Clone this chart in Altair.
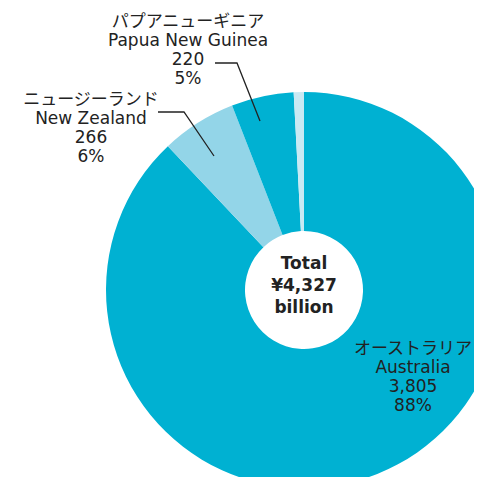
import altair as alt
import pandas as pd

# ---- data ----
regions_ja = ["オーストラリア", "ニュージーランド", "パプアニューギニア", "その他"]
regions_en = ["Australia", "New Zealand", "Papua New Guinea", "Other"]
values = [3805, 266, 220, 36]
colors = ["#00B1D2", "#93D5E8", "#00B1D2", "#C9E9F3"]

total = sum(values)
pcts = [f"{round(v / total * 100)}%" for v in values]

df = pd.DataFrame({
    "key": regions_en,
    "value": values,
    "order": list(range(len(values))),
})

# ---- layout (pixel positions of annotations, not data) ----
CX, CY = 296, 282
R_OUT, R_IN = 198, 59
FONT = "DejaVu Sans, Noto Sans CJK JP, sans-serif"

label_idx = [0, 1, 2]
label_x = [405, 83, 180]
label_y = [341, 92, 14]

leader_id = ["nz", "nz", "nz", "png", "png", "png"]
leader_step = [0, 1, 2, 0, 1, 2]
leader_x = [150, 176, 206, 207, 229, 252]
leader_y = [104, 104, 148, 55, 55, 113]

labels = pd.DataFrame({
    "text": [f"{regions_ja[i]}\n{regions_en[i]}\n{values[i]:,}\n{pcts[i]}" for i in label_idx],
    "px": label_x,
    "py": label_y,
})
leaders = pd.DataFrame({"id": leader_id, "step": leader_step, "px": leader_x, "py": leader_y})
center = pd.DataFrame({"text": [f"Total\n¥{total:,}\nbillion"]})

arcs = alt.Chart(df).mark_arc(innerRadius=R_IN, outerRadius=R_OUT).encode(
    theta=alt.Theta("value:Q", stack=True),
    color=alt.Color("key:N", scale=alt.Scale(domain=regions_en, range=colors), legend=None),
    order=alt.Order("order:Q"),
    x=alt.value(CX),
    y=alt.value(CY),
)

text_labels = alt.Chart(labels).mark_text(
    font=FONT, fontSize=17, lineBreak="\n", lineHeight=19, align="center",
    baseline="middle", color="#222222",
).encode(
    x=alt.X("px:Q", scale=None),
    y=alt.Y("py:Q", scale=None),
    text="text:N",
)

leader_lines = alt.Chart(leaders).mark_line(color="#222222", strokeWidth=1.3).encode(
    x=alt.X("px:Q", scale=None),
    y=alt.Y("py:Q", scale=None),
    detail="id:N",
    order="step:Q",
)

center_text = alt.Chart(center).mark_text(
    font=FONT, fontSize=17, fontWeight="bold", lineBreak="\n", lineHeight=22,
    align="center", baseline="middle", color="#222222",
).encode(
    x=alt.value(CX),
    y=alt.value(256),
    text="text:N",
)

chart = alt.layer(arcs, leader_lines, text_labels, center_text).properties(
    width=466, height=469,
    autosize=alt.AutoSizeParams(type="none"),
    padding=0,
).configure_view(stroke=None)

chart.save("out.html", embed_options={"renderer": "svg", "actions": False})
